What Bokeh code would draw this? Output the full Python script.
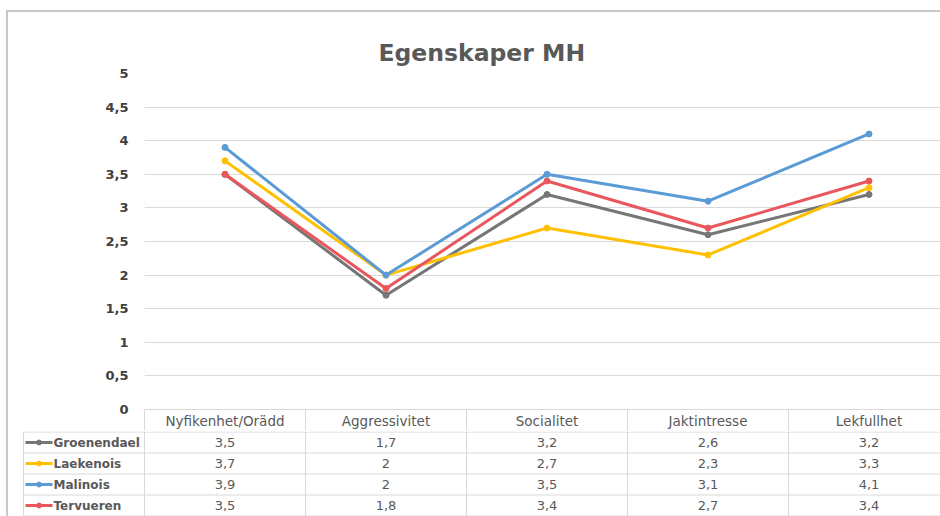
from bokeh.plotting import figure
from bokeh.models import Range1d, FixedTicker, Title
from bokeh.core.properties import value
from bokeh.embed import file_html
from bokeh.resources import INLINE

# ---- data ----
categories = ["Nyfikenhet/Orädd", "Aggressivitet", "Socialitet", "Jaktintresse", "Lekfullhet"]
series_names = ["Groenendael", "Laekenois", "Malinois", "Tervueren"]
groenendael = [3.5, 1.7, 3.2, 2.6, 3.2]
laekenois = [3.7, 2.0, 2.7, 2.3, 3.3]
malinois = [3.9, 2.0, 3.5, 3.1, 4.1]
tervueren = [3.5, 1.8, 3.4, 2.7, 3.4]
series_values = [groenendael, laekenois, malinois, tervueren]
series_colors = ["#767676", "#ffc000", "#5b9bd5", "#e9565c"]
y_ticks = [0, 0.5, 1, 1.5, 2, 2.5, 3, 3.5, 4, 4.5, 5]

FONT = "DejaVu Sans"
TXT = "#595959"
GRID = "#d9d9d9"
BORDER = "#c8c8c8"

# ---- layout constants (pixels) ----
W = 940
COL_W = 161.0
LEFT = 144
FRAME_W = W - LEFT
TOP_H = 431
BOT_H = 516 - TOP_H
ROW_H = 21.0
x_end = FRAME_W / COL_W

def fmt(v):
    return ("%g" % v).replace(".", ",")

n = len(categories)
xs = [i + 0.5 for i in range(n)]

# ---- top figure: line chart + header row ----
top = figure(width=W, height=TOP_H, output_backend="svg", toolbar_location=None,
             x_range=Range1d(0, x_end), y_range=Range1d(0, 5),
             min_border_left=LEFT, min_border_right=0, min_border_top=73,
             min_border_bottom=21)
top.outline_line_color = None
top.background_fill_color = "white"
top.border_fill_alpha = 0

for name, vals, col in zip(series_names, series_values, series_colors):
    top.line(xs, vals, line_color=col, line_width=3)
    top.scatter(xs, vals, size=6, fill_color=col, line_color=col)

ya = top.yaxis[0]
ya.ticker = FixedTicker(ticks=y_ticks)
ya.major_label_overrides = {t: fmt(t) for t in y_ticks}
ya.axis_line_color = None
ya.major_tick_line_color = None
ya.minor_tick_line_color = None
ya.major_tick_out = 0
ya.major_label_standoff = 16
ya.major_label_text_font = FONT
ya.major_label_text_font_style = "bold"
ya.major_label_text_font_size = "13px"
ya.major_label_text_color = "#404040"

xa = top.xaxis[0]
xa.ticker = FixedTicker(ticks=xs, minor_ticks=list(range(n + 1)))
xa.major_label_overrides = {x: c for x, c in zip(xs, categories)}
xa.axis_line_color = GRID
xa.major_tick_line_color = None
xa.major_tick_out = 0
xa.major_tick_in = 0
xa.minor_tick_line_color = GRID
xa.minor_tick_out = 21
xa.minor_tick_in = 0
xa.major_label_standoff = -18
xa.major_label_text_font = FONT
xa.major_label_text_font_size = "13.5px"
xa.major_label_text_color = TXT

top.xgrid.visible = False
top.ygrid.ticker = FixedTicker(ticks=y_ticks)
top.ygrid.grid_line_color = GRID

top.title = Title(text="Egenskaper MH", align="left", offset=234,
                  text_font=FONT, text_font_size="23.5px", text_font_style="bold",
                  text_color=TXT, standoff=14)

top.styles = {"box-shadow": "inset 6px 10px 0 0 #ffffff, inset 8px 12px 0 0 " + BORDER}

# ---- bottom figure: data table ----
legend_left = (23 - LEFT) / COL_W
rows = len(series_names)
y_top = -0.5 / ROW_H
bot = figure(width=W, height=BOT_H, output_backend="svg", toolbar_location=None,
             x_range=Range1d(-LEFT / COL_W, x_end),
             y_range=Range1d(y_top + BOT_H / ROW_H, y_top),
             min_border=0)
bot.outline_line_color = None
bot.axis.visible = False
bot.grid.visible = False
bot.border_fill_alpha = 0
bot.background_fill_alpha = 0
bot.styles = {"box-shadow": "inset 6px 0 0 0 #ffffff, inset 8px 0 0 0 " + BORDER}

# horizontal table lines
bot.segment(x0=[legend_left] * (rows + 1), x1=[x_end] * (rows + 1),
            y0=list(range(rows + 1)), y1=list(range(rows + 1)),
            line_color=GRID, line_width=1)
# vertical table lines
vx = [legend_left] + list(range(n + 1))
bot.segment(x0=vx, x1=vx, y0=[0] * len(vx), y1=[rows] * len(vx),
            line_color=GRID, line_width=1)

# legend keys + values
key_x0 = (25 - LEFT) / COL_W
key_x1 = (52 - LEFT) / COL_W
for r, (name, col) in enumerate(zip(series_names, series_colors)):
    yc = r + 0.5
    bot.segment(x0=[key_x0], x1=[key_x1], y0=[yc], y1=[yc], line_color=col, line_width=3)
    bot.scatter([(key_x0 + key_x1) / 2], [yc], size=5, fill_color=col, line_color=col)
    bot.text([key_x1 + 1 / COL_W], [yc], text=[name], text_font=value(FONT),
             text_font_size="12px", text_color=TXT, text_baseline="middle",
             text_align="left", text_font_style="bold")
    vals = series_values[r]
    bot.text(xs, [yc] * n, text=[fmt(v) for v in vals], text_font=value(FONT),
             text_font_size="13px", text_color=TXT, text_baseline="middle",
             text_align="center")

open("out.html", "w").write(file_html((top, bot), INLINE))
